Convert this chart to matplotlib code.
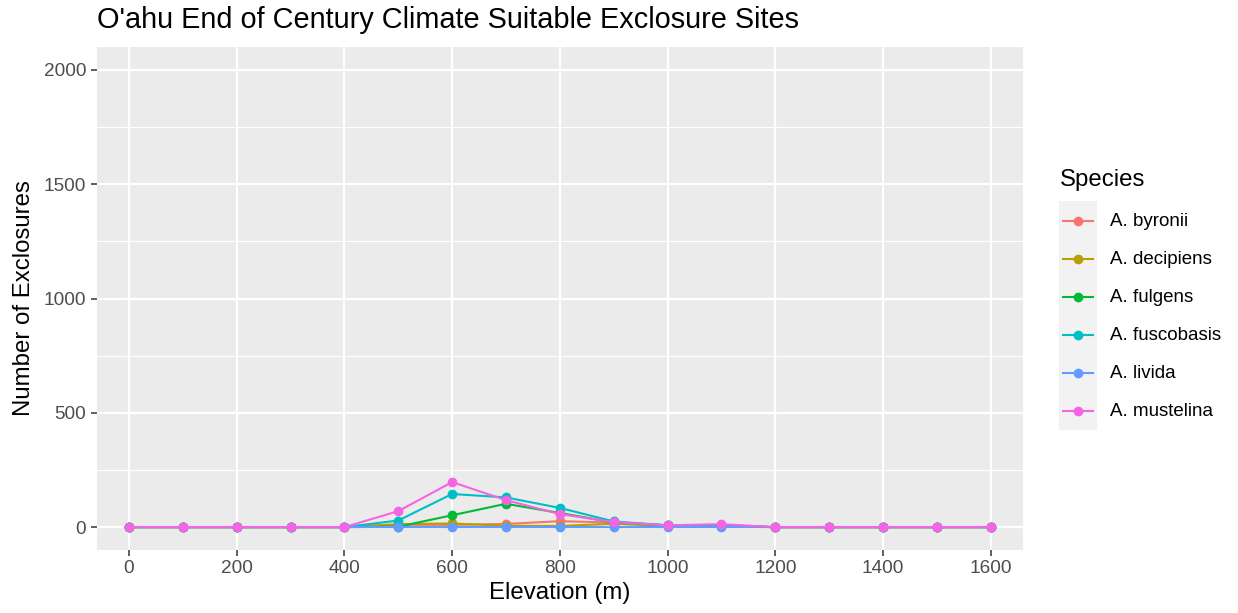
import matplotlib
matplotlib.use("Agg")
import matplotlib.pyplot as plt
from matplotlib.lines import Line2D
from matplotlib.patches import Rectangle

plt.rcParams["font.family"] = ["Liberation Sans", "DejaVu Sans"]

elevation = [0, 100, 200, 300, 400, 500, 600, 700, 800, 900, 1000, 1100, 1200, 1300, 1400, 1500, 1600]

byronii = [0, 0, 0, 0, 0, 10, 10, 14, 26, 20, 8, 8, 0, 0, 0, 0, 0]
decipiens = [0, 0, 0, 0, 0, 13, 16, 6, 5, 15, 5, 3, 0, 0, 0, 0, 0]
fulgens = [0, 0, 0, 0, 0, 2, 52, 102, 62, 20, 8, 5, 0, 0, 0, 0, 0]
fuscobasis = [0, 0, 0, 0, 0, 29, 145, 130, 84, 25, 8, 8, 0, 0, 0, 0, 0]
livida = [0, 0, 0, 0, 0, 0, 0, 0, 0, 0, 0, 0, 0, 0, 0, 0, 0]
mustelina = [0, 0, 0, 0, 0, 70, 197, 118, 57, 22, 8, 13, 0, 0, 0, 0, 0]

species = ["A. byronii", "A. decipiens", "A. fulgens", "A. fuscobasis", "A. livida", "A. mustelina"]
series = [byronii, decipiens, fulgens, fuscobasis, livida, mustelina]
colors = ["#F8766D", "#B79F00", "#00BA38", "#00BFC4", "#619CFF", "#F564E3"]

W, H = 1238, 613
fig = plt.figure(figsize=(W / 100, H / 100), dpi=100)
ax = fig.add_axes([96.7 / W, 1 - 550 / H, (1023 - 96.7) / W, (550 - 47) / H])
ax.set_facecolor("#EBEBEB")

for vals, col in zip(series, colors):
    ax.plot(elevation, vals, color=col, lw=1.5, marker="o", ms=6, zorder=3)

ax.set_xlim(-60, 1660)
ax.set_ylim(-100, 2100)
ax.set_xticks(range(0, 1601, 200))
ax.set_yticks([0, 500, 1000, 1500, 2000])
ax.set_yticks([250, 750, 1250, 1750], minor=True)
ax.grid(which="major", color="white", lw=1.6)
ax.grid(which="minor", axis="y", color="white", lw=0.8)
ax.set_axisbelow(True)
for s in ax.spines.values():
    s.set_visible(False)
ax.tick_params(which="major", length=4.5, width=1.1, color="#333333",
               labelcolor="#4D4D4D", labelsize=13.7, pad=3)
ax.tick_params(which="minor", length=0)

ax.set_xlabel("Elevation (m)", fontsize=17.3, labelpad=3)
ax.set_ylabel("Number of Exclosures", fontsize=17.3, labelpad=6)

fig.text(97 / W, 1 - 20 / H, "O'ahu End of Century Climate Suitable Exclosure Sites",
         fontsize=20.8, ha="left", va="center")

# legend
fig.text(1060 / W, 1 - 180 / H, "Species", fontsize=17.3, ha="left", va="center")
fig.add_artist(Rectangle((1059 / W, 1 - 430 / H), 38 / W, 229 / H,
                         transform=fig.transFigure, facecolor="#F2F2F2", edgecolor="none"))
for i, (name, col) in enumerate(zip(species, colors)):
    yc = 1 - (221 + 38 * i) / H
    fig.add_artist(Line2D([1063 / W, 1093 / W], [yc, yc], transform=fig.transFigure,
                          color=col, lw=1.5))
    fig.add_artist(Line2D([1078 / W], [yc], transform=fig.transFigure,
                          color=col, marker="o", ms=6))
    fig.text(1110 / W, yc, name, fontsize=13.5, ha="left", va="center")

fig.savefig("out.png", dpi=100)
